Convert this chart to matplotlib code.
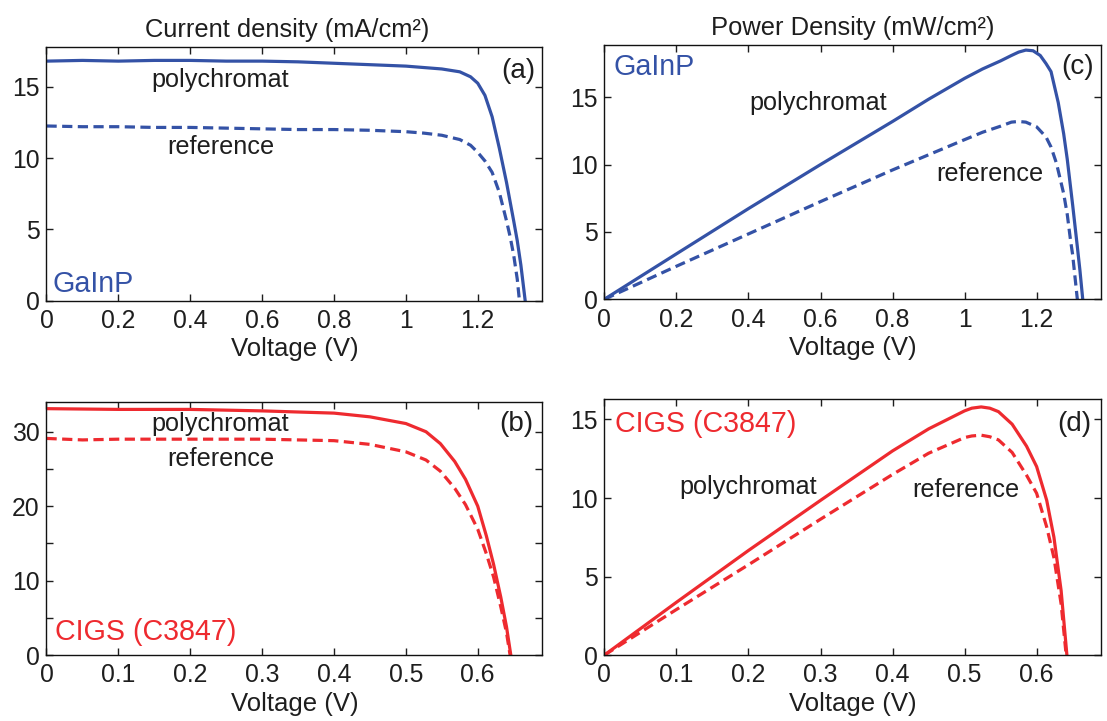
import matplotlib
matplotlib.use("Agg")
import matplotlib.pyplot as plt

plt.rcParams['font.family'] = ['Liberation Sans', 'DejaVu Sans']

BLUE = '#3452A6'
RED = '#EE2A2F'
TXT = '#1E1E1E'

# ---- Panel (a): GaInP current density ----
V_a_poly = [0, 0.1, 0.2, 0.3, 0.4, 0.5, 0.6, 0.7, 0.8, 0.9, 1.0, 1.05, 1.1, 1.15,
            1.18, 1.2, 1.22, 1.24, 1.26, 1.28, 1.30, 1.31, 1.32, 1.332]
J_a_poly = [16.8, 16.85, 16.8, 16.85, 16.85, 16.8, 16.8, 16.75, 16.65, 16.55, 16.45,
            16.35, 16.25, 16.05, 15.7, 15.25, 14.4, 12.9, 10.7, 8.3, 5.6, 4.2, 2.5, 0.0]
V_a_ref = [0, 0.1, 0.2, 0.3, 0.4, 0.5, 0.6, 0.7, 0.8, 0.9, 1.0, 1.05, 1.1, 1.15,
           1.18, 1.2, 1.22, 1.24, 1.26, 1.28, 1.29, 1.30, 1.31, 1.316]
J_a_ref = [12.25, 12.2, 12.2, 12.15, 12.15, 12.1, 12.05, 12.0, 12.0, 11.95, 11.85,
           11.75, 11.6, 11.3, 10.9, 10.4, 9.8, 9.0, 7.6, 5.6, 4.5, 3.2, 1.5, 0.0]

# ---- Panel (c): GaInP power density ----
V_c_poly = [0, 0.2, 0.4, 0.6, 0.8, 0.9, 1.0, 1.05, 1.1, 1.13, 1.15, 1.17, 1.19, 1.21,
            1.226, 1.24, 1.26, 1.275, 1.285, 1.30, 1.313, 1.32, 1.328]
P_c_poly = [0, 3.37, 6.73, 10.0, 13.2, 14.85, 16.4, 17.1, 17.7, 18.1, 18.35, 18.5, 18.45,
            18.1, 17.5, 16.9, 14.6, 12.3, 10.4, 7.0, 3.9, 2.2, 0.0]
V_c_ref = [0, 0.2, 0.4, 0.6, 0.8, 1.0, 1.05, 1.1, 1.13, 1.15, 1.17, 1.2, 1.226, 1.24,
           1.255, 1.275, 1.285, 1.294, 1.30, 1.313]
P_c_ref = [0, 2.45, 4.85, 7.25, 9.6, 11.85, 12.4, 12.85, 13.15, 13.2, 13.15, 12.8, 12.05,
           11.3, 10.1, 7.85, 6.3, 4.4, 3.3, 0.0]

# ---- Panel (b): CIGS current density ----
V_b_poly = [0, 0.1, 0.2, 0.3, 0.4, 0.45, 0.5, 0.528, 0.548, 0.568, 0.583, 0.6,
            0.612, 0.622, 0.632, 0.64, 0.646]
J_b_poly = [33.1, 33.0, 33.0, 32.8, 32.5, 32.0, 31.1, 30.0, 28.4, 26.0, 23.6, 20.0,
            16.0, 12.2, 7.8, 3.8, 0.0]
V_b_ref = [0, 0.05, 0.1, 0.2, 0.3, 0.4, 0.45, 0.5, 0.528, 0.548, 0.568, 0.583, 0.6,
           0.612, 0.622, 0.632, 0.64, 0.645]
J_b_ref = [29.1, 28.9, 29.0, 29.0, 29.0, 28.8, 28.3, 27.3, 26.2, 24.7, 22.4, 20.2, 16.9,
           13.6, 10.5, 6.5, 3.0, 0.0]

# ---- Panel (d): CIGS power density ----
V_d_poly = [0, 0.1, 0.2, 0.3, 0.4, 0.45, 0.5, 0.51, 0.523, 0.535, 0.547, 0.566, 0.586,
            0.6, 0.614, 0.624, 0.634, 0.642]
P_d_poly = [0, 3.36, 6.66, 9.85, 13.0, 14.4, 15.55, 15.72, 15.8, 15.72, 15.5, 14.7, 13.3,
            12.0, 9.85, 7.5, 4.1, 0.0]
V_d_ref = [0, 0.1, 0.2, 0.3, 0.4, 0.45, 0.5, 0.51, 0.523, 0.535, 0.547, 0.566, 0.586,
           0.6, 0.614, 0.624, 0.634, 0.641]
P_d_ref = [0, 2.9, 5.75, 8.65, 11.5, 12.85, 13.85, 13.95, 14.0, 13.9, 13.7, 12.9, 11.45,
           10.3, 8.15, 6.2, 3.25, 0.0]

xt_top = [0, 0.2, 0.4, 0.6, 0.8, 1.0, 1.2]
xt_top_lbl = ['0', '0.2', '0.4', '0.6', '0.8', '1', '1.2']
xt_bot = [0, 0.1, 0.2, 0.3, 0.4, 0.5, 0.6]
xt_bot_lbl = ['0', '0.1', '0.2', '0.3', '0.4', '0.5', '0.6']

fig = plt.figure(figsize=(11.07, 7.21), dpi=100)
axa = fig.add_axes([0.042, 0.583, 0.448, 0.352])
axc = fig.add_axes([0.546, 0.585, 0.449, 0.353])
axb = fig.add_axes([0.042, 0.0915, 0.448, 0.351])
axd = fig.add_axes([0.546, 0.0915, 0.449, 0.355])

TICK_FS = 17.8
ANN_FS = 18.2
LAB_FS = 18.5
NAME_FS = 20.6
PAN_FS = 20
TITLE_FS = 18.4
LW = 2.3
DASH = (3.2, 1.7)


def style(ax, xlim, ylim, xticks, xlabels, yticks, ylabels):
    ax.set_xlim(*xlim)
    ax.set_ylim(*ylim)
    ax.set_xticks(xticks)
    ax.set_xticklabels(xlabels)
    ax.set_yticks(yticks)
    ax.set_yticklabels(ylabels)
    ax.tick_params(direction='in', length=5, width=1.0, top=True, right=True,
                   labelsize=TICK_FS, colors=TXT)
    ax.tick_params(axis='x', pad=6)
    ax.tick_params(axis='y', pad=5)
    for s in ax.spines.values():
        s.set_linewidth(1.0)
        s.set_color('#111111')
    ax.set_xlabel('Voltage (V)', fontsize=LAB_FS, color=TXT, labelpad=3)


# (a)
axa.plot(V_a_poly, J_a_poly, color=BLUE, lw=LW)
axa.plot(V_a_ref, J_a_ref, color=BLUE, lw=LW, ls=(0, DASH))
style(axa, (0, 1.38), (0, 17.8), xt_top, xt_top_lbl, [0, 5, 10, 15], ['0', '5', '10', '15'])
axa.set_title('Current density (mA/cm²)', fontsize=TITLE_FS, color=TXT, pad=7, x=0.485)
axa.text(0.482, 15.45, 'polychromat', fontsize=ANN_FS, color=TXT, ha='center', va='center')
axa.text(0.484, 10.76, 'reference', fontsize=ANN_FS, color=TXT, ha='center', va='center')
axa.text(0.018, 1.2, 'GaInP', fontsize=NAME_FS, color=BLUE, ha='left', va='center')
axa.text(1.314, 16.1, '(a)', fontsize=PAN_FS, color=TXT, ha='center', va='center')

# (c)
axc.plot(V_c_poly, P_c_poly, color=BLUE, lw=LW)
axc.plot(V_c_ref, P_c_ref, color=BLUE, lw=LW, ls=(0, DASH))
style(axc, (0, 1.38), (0, 18.9), xt_top, xt_top_lbl, [0, 5, 10, 15], ['0', '5', '10', '15'])
axc.set_title('Power Density (mW/cm²)', fontsize=TITLE_FS, color=TXT, pad=7)
axc.text(0.592, 14.6, 'polychromat', fontsize=ANN_FS, color=TXT, ha='center', va='center')
axc.text(1.07, 9.33, 'reference', fontsize=ANN_FS, color=TXT, ha='center', va='center')
axc.text(0.025, 17.25, 'GaInP', fontsize=NAME_FS, color=BLUE, ha='left', va='center')
axc.text(1.313, 17.25, '(c)', fontsize=PAN_FS, color=TXT, ha='center', va='center')

# (b)
axb.plot(V_b_poly, J_b_poly, color=RED, lw=LW)
axb.plot(V_b_ref, J_b_ref, color=RED, lw=LW, ls=(0, DASH))
style(axb, (0, 0.69), (0, 34.0), xt_bot, xt_bot_lbl,
      [0, 5, 10, 15, 20, 25, 30], ['0', '', '10', '', '20', '', '30'])
axb.text(0.242, 31.1, 'polychromat', fontsize=ANN_FS, color=TXT, ha='center', va='center')
axb.text(0.242, 26.3, 'reference', fontsize=ANN_FS, color=TXT, ha='center', va='center')
axb.text(0.012, 3.1, 'CIGS (C3847)', fontsize=NAME_FS, color=RED, ha='left', va='center')
axb.text(0.654, 31.1, '(b)', fontsize=PAN_FS, color=TXT, ha='center', va='center')

# (d)
axd.plot(V_d_poly, P_d_poly, color=RED, lw=LW)
axd.plot(V_d_ref, P_d_ref, color=RED, lw=LW, ls=(0, DASH))
style(axd, (0, 0.69), (0, 16.3), xt_bot, xt_bot_lbl, [0, 5, 10, 15], ['0', '5', '10', '15'])
axd.text(0.199, 10.7, 'polychromat', fontsize=ANN_FS, color=TXT, ha='center', va='center')
axd.text(0.502, 10.53, 'reference', fontsize=ANN_FS, color=TXT, ha='center', va='center')
axd.text(0.015, 14.74, 'CIGS (C3847)', fontsize=NAME_FS, color=RED, ha='left', va='center')
axd.text(0.652, 14.74, '(d)', fontsize=PAN_FS, color=TXT, ha='center', va='center')

fig.savefig('out.png', dpi=100)
